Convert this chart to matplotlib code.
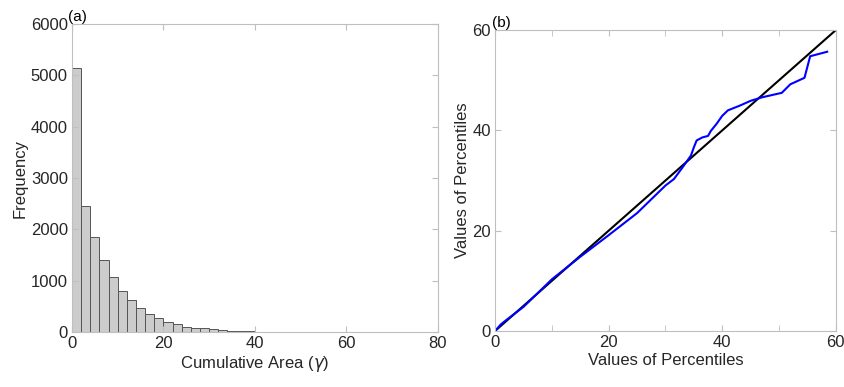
import matplotlib
matplotlib.use("Agg")
import matplotlib.pyplot as plt
import numpy as np

plt.rcParams['font.family'] = ['Liberation Sans', 'DejaVu Sans']

# Panel (a): histogram of cumulative area, bin width 2
bin_edges = list(range(0, 82, 2))
counts = [5150, 2450, 1850, 1400, 1080, 800, 620, 460, 360, 280,
          200, 150, 95, 75, 70, 50, 40, 25, 15, 12,
          8, 5, 4, 3, 2, 2, 2, 1, 1, 1,
          1, 1, 1, 0, 0, 0, 1, 0, 0, 0]

# Panel (b): percentile comparison
perc_x = [0, 1, 2, 5, 10, 15, 20, 25, 30, 31.5, 33, 34.5, 35, 35.5, 36.5,
          37.5, 38, 39, 40, 41, 43, 45, 47, 50.5, 52, 54.5, 55.5, 58.5]
perc_y = [0, 1.3, 2.2, 4.8, 10.3, 14.8, 19.1, 23.5, 29.0, 30.3, 32.6, 35.0,
          36.6, 38.0, 38.6, 38.9, 39.9, 41.3, 42.9, 44.0, 44.9, 45.9, 46.6,
          47.5, 49.2, 50.5, 54.8, 55.7]
ref_line = [0, 60]

txt = '#262626'
fig = plt.figure(figsize=(8.45, 3.87), dpi=100)
ax1 = fig.add_axes([0.0852, 0.142, 0.433, 0.796])
ax2 = fig.add_axes([0.586, 0.145, 0.403, 0.777])

ax1.bar(bin_edges[:-1], counts, width=2, align='edge', color='#cccccc',
        edgecolor='#555555', linewidth=0.7)
ax1.set_xlim(0, 80)
ax1.set_ylim(0, 6000)
ax1.set_xticks([0, 20, 40, 60, 80])
ax1.set_yticks(range(0, 6001, 1000))
ax1.set_xlabel(r'Cumulative Area ($\gamma$)', fontsize=12, color=txt, labelpad=2)
ax1.set_ylabel('Frequency', fontsize=12, color=txt, labelpad=2)
ax1.text(-0.01, 1.0, '(a)', transform=ax1.transAxes, fontsize=11, color='black',
         ha='left', va='bottom')

ax2.plot(ref_line, ref_line, color='black', linewidth=1.5)
ax2.plot(perc_x, perc_y, color='blue', linewidth=1.5)
ax2.set_xlim(0, 60)
ax2.set_ylim(0, 60)
ax2.set_xticks([0, 20, 40, 60])
ax2.set_xticks([10, 30, 50], minor=True)
ax2.set_yticks([0, 20, 40, 60])
ax2.set_xlabel('Values of Percentiles', fontsize=12, color=txt, labelpad=2)
ax2.set_ylabel('Values of Percentiles', fontsize=12, color=txt, labelpad=2)
ax2.text(-0.01, 1.0, '(b)', transform=ax2.transAxes, fontsize=11, color='black',
         ha='left', va='bottom')

for ax in (ax1, ax2):
    for s in ax.spines.values():
        s.set_color('#bfbfbf')
        s.set_linewidth(0.8)
    ax.tick_params(which='both', direction='in', top=True, right=True,
                   length=4, color='#bfbfbf', labelcolor=txt, labelsize=12, pad=3)

fig.savefig('out.png', dpi=100)
